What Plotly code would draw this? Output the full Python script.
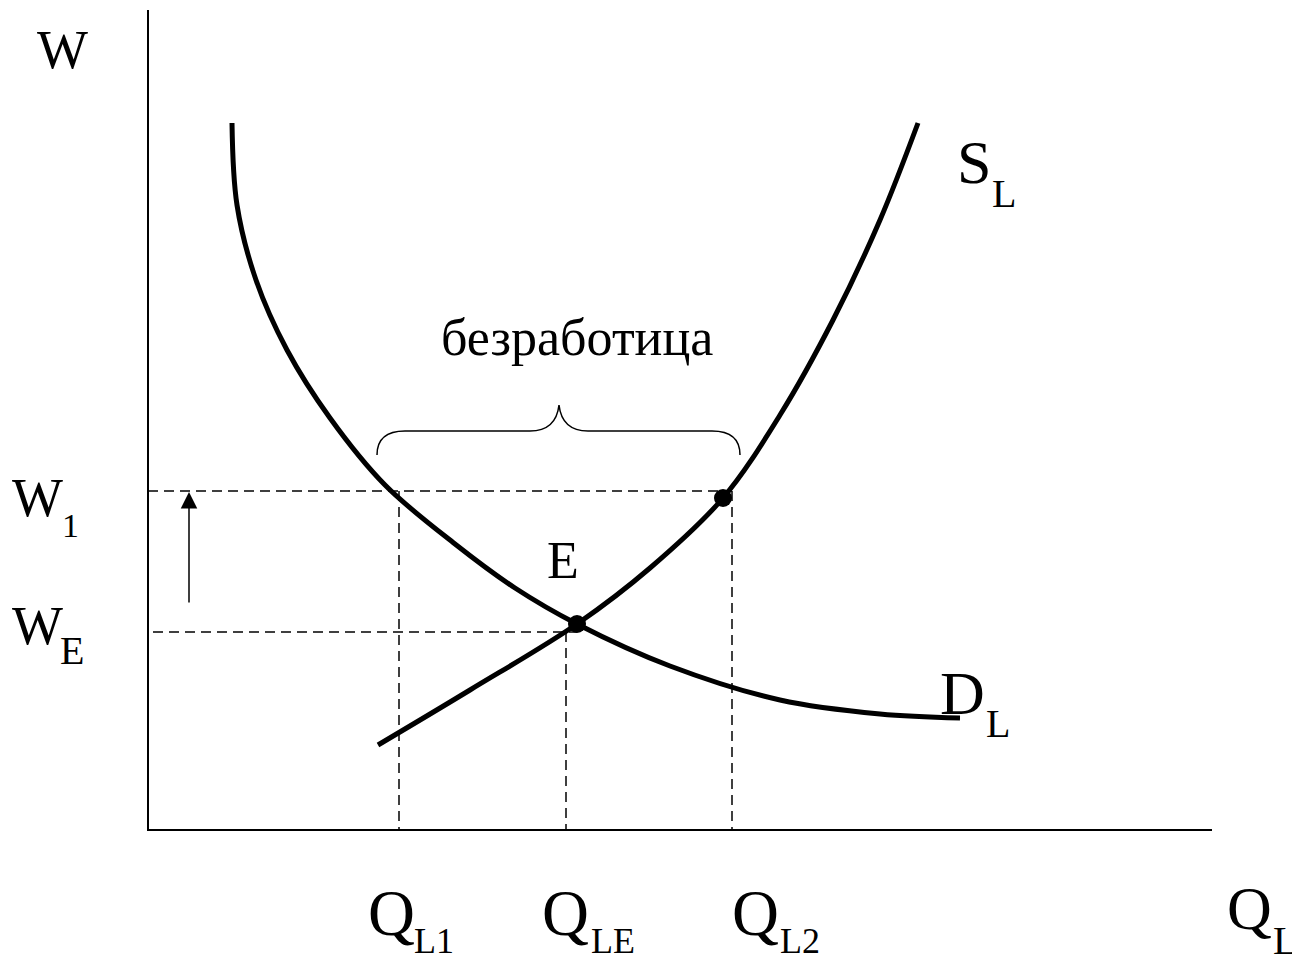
"""Labour market: minimum wage above equilibrium -> unemployment"""
import plotly.graph_objects as go

# curves, in picture coordinates (x right, y down)
demand_x = [232, 237, 256, 287, 330, 385, 455, 515, 577, 670, 780, 880, 960]
demand_y = [123, 205, 280, 350, 418, 485, 544, 588, 624, 666, 700, 714, 718]
supply_x = [378, 470, 577, 650, 723, 780, 833, 880, 918]
supply_y = [745, 690, 624, 568, 498, 415, 320, 220, 123]

# key levels
w_e, w_1 = 632, 491
q_l1, q_le, q_l2 = 399, 566, 732
point_x = [577, 723]
point_y = [624, 498]

axis_x0, axis_y0 = 148, 830
axis_top, axis_right = 10, 1212

serif = "Liberation Serif"

fig = go.Figure()

# axes
fig.add_trace(go.Scatter(
    x=[axis_x0, axis_x0, axis_right], y=[axis_top, axis_y0, axis_y0],
    mode='lines', line=dict(color='black', width=2), hoverinfo='skip'
))

# dashed guides
dash = dict(color='black', width=1.5, dash='10px,6px')
fig.add_trace(go.Scatter(x=[axis_x0, q_l2], y=[w_1, w_1], mode='lines', line=dash))
fig.add_trace(go.Scatter(x=[153, point_x[0]], y=[w_e, w_e], mode='lines', line=dash))
fig.add_trace(go.Scatter(x=[q_l1, q_l1], y=[w_1, axis_y0], mode='lines', line=dash))
fig.add_trace(go.Scatter(x=[q_le, q_le], y=[w_e, axis_y0], mode='lines', line=dash))
fig.add_trace(go.Scatter(x=[q_l2, q_l2], y=[w_1, axis_y0], mode='lines', line=dash))

# demand and supply
fig.add_trace(go.Scatter(x=demand_x, y=demand_y, mode='lines',
                         line=dict(color='black', width=5, shape='spline', smoothing=1)))
fig.add_trace(go.Scatter(x=supply_x, y=supply_y, mode='lines',
                         line=dict(color='black', width=5, shape='spline', smoothing=1)))

# points
fig.add_trace(go.Scatter(x=point_x, y=point_y, mode='markers',
                         marker=dict(color='black', size=18)))

# brace over the unemployment gap
fig.add_shape(
    type='path', xref='x', yref='y',
    path="M 377 455 Q 377 431 405 431 L 530 431 Q 556 431 559 405 "
         "Q 562 431 588 431 L 712 431 Q 740 431 740 455",
    line=dict(color='black', width=1.5)
)

# wage rise arrow
fig.add_annotation(x=189, y=w_1 + 1, ax=189, ay=604, xref='x', yref='y',
                   axref='x', ayref='y', text='', showarrow=True,
                   arrowhead=2, arrowsize=2.2, arrowwidth=1.5, arrowcolor='black')

labels = [
    # text, x, y, size
    ("W", 62, 50, 54),
    ("W", 37, 498, 54), ("1", 70, 525, 34),
    ("W", 37, 626, 54), ("E", 72, 650, 40),
    ("E", 563, 560, 52),
    ("безработица", 577, 337, 52),
    ("S", 974, 162, 62), ("L", 1004, 193, 40),
    ("D", 962, 693, 62), ("L", 998, 723, 40),
    ("Q", 391, 913, 65), ("L1", 434, 941, 36),
    ("Q", 565, 913, 65), ("LE", 613, 941, 36),
    ("Q", 755, 913, 65), ("L2", 800, 941, 36),
    ("Q", 1249, 908, 62), ("L", 1285, 940, 40),
]
for text, x, y, size in labels:
    fig.add_annotation(x=x, y=y, xref='x', yref='y', text=text, showarrow=False,
                       xanchor='center', yanchor='middle',
                       font=dict(family=serif, size=size, color='black'))

# the page body has an 8px margin, so the plot starts at (8, 8)
fig.update_layout(
    width=1292, height=950,
    margin=dict(l=0, r=0, t=0, b=0),
    paper_bgcolor='white', plot_bgcolor='white',
    showlegend=False,
    xaxis=dict(range=[8, 1300], visible=False, fixedrange=True),
    yaxis=dict(range=[958, 8], visible=False, fixedrange=True),
)

fig.write_html("out.html")
